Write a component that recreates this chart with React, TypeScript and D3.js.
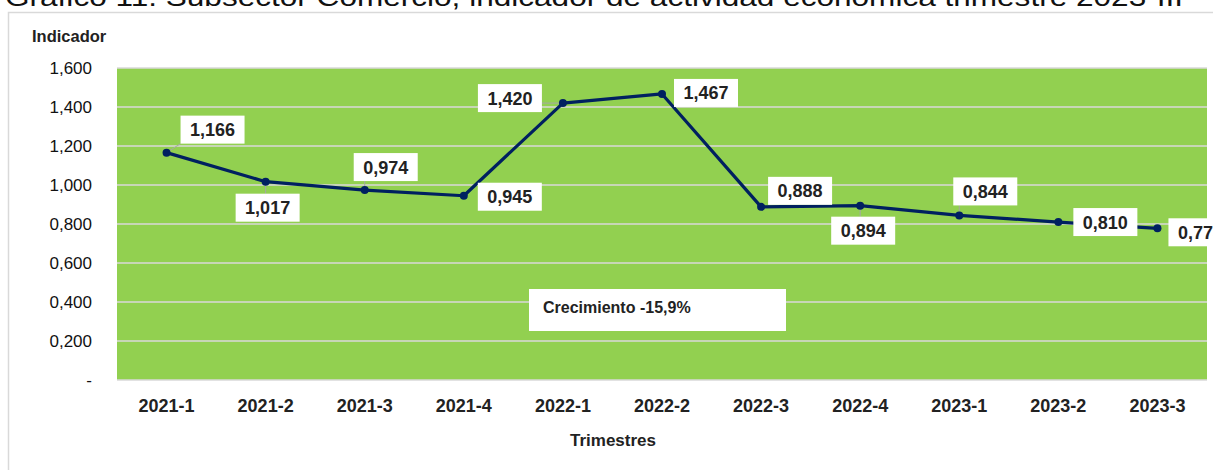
import React from "react";
import * as d3 from "d3";

const categories = ["2021-1", "2021-2", "2021-3", "2021-4", "2022-1", "2022-2", "2022-3", "2022-4", "2023-1", "2023-2", "2023-3"];
const values = [1.166, 1.017, 0.974, 0.945, 1.42, 1.467, 0.888, 0.894, 0.844, 0.81, 0.778];
const yTicks = [0, 0.2, 0.4, 0.6, 0.8, 1.0, 1.2, 1.4, 1.6];
const titleText = "Gráfico 11. Subsector Comercio, indicador de actividad económica trimestre 2023-III";
const yTitle = "Indicador";
const xTitle = "Trimestres";
const noteText = "Crecimiento -15,9%";

// label placement (offsets from each point, pixels)
const labelDx = [46, 2, 21, 46, -53, 44, 39, 3, 26, 47, 43];
const labelDy = [-23, 26, -23, 1, -5, -1, -16, 25, -24, 0, 4];
const showLeader = [true, true, true, false, true, false, false, true, true, false, false];

const W = 1213;
const H = 470;
const M = { left: 117, right: 1207, top: 68, bottom: 380 };
const FONT = "'Liberation Sans', Arial, sans-serif";

const fmt = (v: number) => (v === 0 ? "-" : v.toFixed(3).replace(".", ","));

export default function App() {
  const x = d3.scaleBand<string>().domain(categories).range([M.left, M.right]).padding(0);
  const y = d3.scaleLinear().domain([0, 1.6]).range([M.bottom, M.top]);
  const cx = (c: string) => (x(c) as number) + x.bandwidth() / 2;
  const line = d3
    .line<number>()
    .x((_, i) => cx(categories[i]))
    .y((d) => y(d));

  const boxW = 64;
  const boxH = 28;

  return (
    <svg
      width={W}
      height={H}
      style={{ position: "absolute", left: 0, top: 0, display: "block", background: "#fff" }}
    >
      <text
        x={5}
        y={6}
        fontFamily={FONT}
        fontSize={26}
        fill="#111"
        textLength={1178}
        lengthAdjust="spacingAndGlyphs"
      >
        {titleText}
      </text>
      <rect x={8.5} y={12.5} width={W + 10} height={H} fill="#fff" stroke="#D9D9D9" strokeWidth={1.5} />

      <rect x={M.left} y={M.top} width={M.right - M.left} height={M.bottom - M.top} fill="#92D050" />
      {yTicks.map((t) => (
        <line key={t} x1={M.left} x2={M.right} y1={y(t)} y2={y(t)} stroke="#D9D9D9" strokeWidth={1.5} />
      ))}

      {yTicks.map((t) => (
        <text
          key={"yl" + t}
          x={92}
          y={y(t)}
          dy="0.36em"
          textAnchor="end"
          fontFamily={FONT}
          fontSize={17}
          fill="#111"
        >
          {fmt(t)}
        </text>
      ))}
      <text x={32} y={42} fontFamily={FONT} fontSize={16.5} fontWeight="bold" fill="#222">
        {yTitle}
      </text>

      {categories.map((c) => (
        <text
          key={c}
          x={cx(c)}
          y={412}
          textAnchor="middle"
          fontFamily={FONT}
          fontSize={18}
          fontWeight="bold"
          fill="#222"
        >
          {c}
        </text>
      ))}
      <text x={613} y={446} textAnchor="middle" fontFamily={FONT} fontSize={17} fontWeight="bold" fill="#222">
        {xTitle}
      </text>

      <rect x={529} y={289} width={257} height={42} fill="#fff" />
      <text x={543} y={313} fontFamily={FONT} fontSize={16} fontWeight="bold" fill="#222">
        {noteText}
      </text>

      {values.map((v, i) => {
        if (!showLeader[i]) return null;
        const px = cx(categories[i]);
        const py = y(v);
        const bx0 = px + labelDx[i] - boxW / 2;
        const bx1 = bx0 + boxW;
        const by0 = py + labelDy[i] - boxH / 2;
        const by1 = by0 + boxH;
        const qx = Math.max(bx0, Math.min(px, bx1));
        const qy = Math.max(by0, Math.min(py, by1));
        return (
          <line key={"ld" + i} x1={px} y1={py} x2={qx} y2={qy} stroke="#A6A6A6" strokeWidth={1} />
        );
      })}

      <path d={line(values) || ""} fill="none" stroke="#002060" strokeWidth={3.2} strokeLinejoin="round" />
      {values.map((v, i) => (
        <circle key={"pt" + i} cx={cx(categories[i])} cy={y(v)} r={4} fill="#002060" />
      ))}

      {values.map((v, i) => {
        const lx = cx(categories[i]) + labelDx[i];
        const ly = y(v) + labelDy[i];
        return (
          <g key={"lb" + i}>
            <rect x={lx - boxW / 2} y={ly - boxH / 2} width={boxW} height={boxH} fill="#fff" />
            <text
              x={lx}
              y={ly}
              dy="0.36em"
              textAnchor="middle"
              fontFamily={FONT}
              fontSize={18}
              fontWeight="bold"
              fill="#222"
            >
              {fmt(v)}
            </text>
          </g>
        );
      })}
    </svg>
  );
}
